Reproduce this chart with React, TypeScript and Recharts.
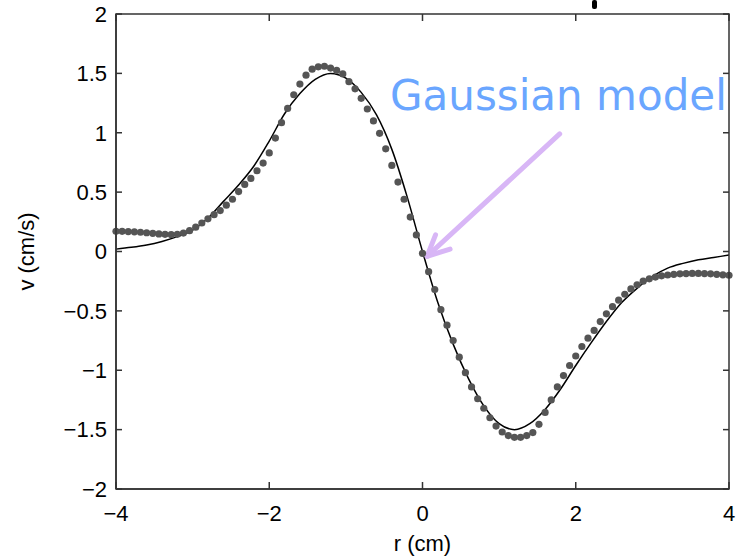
import {
  ComposedChart,
  Line,
  Scatter,
  XAxis,
  YAxis,
  ReferenceLine,
  Label,
} from "recharts";

// measured dots (v in cm/s), r step 0.08 from -4 to 4
const dotR = [
  -4.0, -3.92, -3.84, -3.76, -3.68, -3.6, -3.52, -3.44, -3.36, -3.28,
  -3.2, -3.12, -3.04, -2.96, -2.88, -2.8, -2.72, -2.64, -2.56, -2.48,
  -2.4, -2.32, -2.24, -2.16, -2.08, -2.0, -1.92, -1.84, -1.76, -1.68,
  -1.6, -1.52, -1.44, -1.36, -1.28, -1.2, -1.12, -1.04, -0.96, -0.88,
  -0.8, -0.72, -0.64, -0.56, -0.48, -0.4, -0.32, -0.24, -0.16, -0.08,
  0.0, 0.08, 0.16, 0.24, 0.32, 0.4, 0.48, 0.56, 0.64, 0.72,
  0.8, 0.88, 0.96, 1.04, 1.12, 1.2, 1.28, 1.36, 1.44, 1.52,
  1.6, 1.68, 1.76, 1.84, 1.92, 2.0, 2.08, 2.16, 2.24, 2.32,
  2.4, 2.48, 2.56, 2.64, 2.72, 2.8, 2.88, 2.96, 3.04, 3.12,
  3.2, 3.28, 3.36, 3.44, 3.52, 3.6, 3.68, 3.76, 3.84, 3.92, 4.0,
];
const dotV = [
  0.17, 0.17, 0.168, 0.166, 0.162, 0.158, 0.153, 0.148, 0.145, 0.143,
  0.145, 0.155, 0.175, 0.205, 0.24, 0.275, 0.31, 0.345, 0.39, 0.44,
  0.505, 0.565, 0.615, 0.68, 0.745, 0.83, 0.955, 1.085, 1.205, 1.32,
  1.41, 1.485, 1.535, 1.555, 1.56, 1.545, 1.525, 1.495, 1.43, 1.37,
  1.29, 1.2, 1.1, 0.995, 0.865, 0.725, 0.585, 0.44, 0.29, 0.14,
  -0.015, -0.17, -0.32, -0.49, -0.62, -0.75, -0.89, -1.02, -1.14, -1.24,
  -1.32, -1.4, -1.47, -1.52, -1.55, -1.565, -1.565, -1.55, -1.525, -1.455,
  -1.355, -1.25, -1.14, -1.045, -0.96, -0.88, -0.8, -0.73, -0.665, -0.59,
  -0.525, -0.465, -0.41, -0.36, -0.315, -0.28, -0.25, -0.23, -0.215, -0.205,
  -0.198, -0.192, -0.188, -0.186, -0.185, -0.185, -0.186, -0.188, -0.192, -0.196, -0.2,
];

// Gaussian model curve, r step 0.2
const modelR = [
  -4.0, -3.8, -3.6, -3.4, -3.2, -3.0, -2.8, -2.6, -2.4, -2.2,
  -2.0, -1.8, -1.6, -1.4, -1.2, -1.0, -0.8, -0.6, -0.4, -0.2,
  0.0, 0.2, 0.4, 0.6, 0.8, 1.0, 1.2, 1.4, 1.6, 1.8,
  2.0, 2.2, 2.4, 2.6, 2.8, 3.0, 3.2, 3.4, 3.6, 3.8, 4.0,
];
const modelV = [
  0.02, 0.035, 0.055, 0.085, 0.125, 0.18, 0.28, 0.42, 0.56, 0.72,
  0.93, 1.16, 1.33, 1.45, 1.5, 1.46, 1.34, 1.15, 0.86, 0.46,
  0.0, -0.43, -0.78, -1.07, -1.3, -1.45, -1.5, -1.45, -1.33, -1.16,
  -0.96, -0.77, -0.59, -0.43, -0.31, -0.21, -0.14, -0.1, -0.07, -0.05, -0.03,
];

const xTicks = [-4, -2, 0, 2, 4];
const yTicks = [-2, -1.5, -1, -0.5, 0, 0.5, 1, 1.5, 2];
const xMin = -4;
const xMax = 4;
const yMin = -2;
const yMax = 2;

// arrow: shaft start, tip, two wings (r, v)
const arrowShaft = [
  { x: 1.79, y: 0.99 },
  { x: 0.06, y: -0.04 },
];
const arrowWings = [
  { x: 0.36, y: 0.02 },
  { x: 0.17, y: 0.14 },
];

const dots = dotR.map((r, i) => ({ r, v: dotV[i] }));
const model = modelR.map((r, i) => ({ r, v: modelV[i] }));

const fmt = (v: number) => String(v).replace("-", "\u2212");
const font = "'Liberation Sans', Arial, sans-serif";
const tickStyle = { fontSize: 22, fill: "#000", fontFamily: font };
const arrowColor = "#d8b6f6";
const axisColor = "#333333";
const frame = { stroke: axisColor, strokeWidth: 1.5 };

// chart box
const W = 740;
const H = 558;
const margin = { top: 14, right: 11, left: 56, bottom: 29 };
const yAxisW = 60;
const xAxisH = 40;
const plotL = margin.left + yAxisW;
const plotT = margin.top;
const plotW = W - plotL - margin.right;
const plotH = H - plotT - margin.bottom - xAxisH;

// matlab-style frame: top/right border and inward ticks on every side
const MatlabFrame = () => {
  const sx = (t: number) => plotL + ((t - xMin) / (xMax - xMin)) * plotW;
  const sy = (t: number) => plotT + ((yMax - t) / (yMax - yMin)) * plotH;
  const len = 7;
  return (
    <svg width={W} height={H} style={{ position: "absolute", left: 0, top: 0, pointerEvents: "none" }}>
      <g stroke={axisColor} strokeWidth={1.5} fill="none">
        <rect x={plotL} y={plotT} width={plotW} height={plotH} />
        {xTicks.map((t) => (
          <g key={`x${t}`}>
            <line x1={sx(t)} x2={sx(t)} y1={plotT + plotH} y2={plotT + plotH - len} />
            <line x1={sx(t)} x2={sx(t)} y1={plotT} y2={plotT + len} />
          </g>
        ))}
        {yTicks.map((t) => (
          <g key={`y${t}`}>
            <line x1={plotL} x2={plotL + len - 1} y1={sy(t)} y2={sy(t)} />
            <line x1={plotL + plotW} x2={plotL + plotW - len + 1} y1={sy(t)} y2={sy(t)} />
          </g>
        ))}
      </g>
    </svg>
  );
};

export default function App() {
  return (
    <div style={{ position: "absolute", left: 0, top: 0, width: W, height: H, background: "#fff" }}>
      <ComposedChart width={W} height={H} margin={margin}>
        <XAxis
          type="number"
          dataKey="r"
          domain={[xMin, xMax]}
          ticks={xTicks}
          height={xAxisH}
          tickSize={0}
          tickMargin={16}
          tickLine={false}
          tickFormatter={fmt}
          tick={tickStyle}
          axisLine={frame}
        >
          <Label value="r (cm)" position="insideBottom" offset={-22} style={{ fontSize: 22, fill: "#000", fontFamily: font }} />
        </XAxis>
        <YAxis
          type="number"
          dataKey="v"
          domain={[yMin, yMax]}
          ticks={yTicks}
          width={yAxisW}
          tickSize={0}
          tickMargin={9}
          tickLine={false}
          tickFormatter={fmt}
          tick={tickStyle}
          axisLine={frame}
        >
          <Label
            value="v (cm/s)"
            angle={-90}
            position="insideLeft"
            offset={-30}
            style={{ fontSize: 22, fill: "#000", fontFamily: font, textAnchor: "middle" }}
          />
        </YAxis>

        <Scatter
          data={dots}
          dataKey="v"
          fill="#555"
          isAnimationActive={false}
          shape={(p: any) => <circle cx={p.cx} cy={p.cy} r={3.6} fill="#555" />}
        />
        <Line
          data={model}
          dataKey="v"
          type="monotone"
          stroke="#000"
          strokeWidth={1.5}
          dot={false}
          activeDot={false}
          isAnimationActive={false}
        />

        <ReferenceLine
          segment={arrowShaft}
          stroke={arrowColor}
          strokeWidth={5}
          strokeLinecap="round"
          ifOverflow="visible"
        />
        {arrowWings.map((w, i) => (
          <ReferenceLine
            key={i}
            segment={[arrowShaft[1], w]}
            stroke={arrowColor}
            strokeWidth={5}
            strokeLinecap="round"
            ifOverflow="visible"
          />
        ))}
      </ComposedChart>
      <MatlabFrame />
      <div
        style={{
          position: "absolute",
          left: 390,
          top: 71,
          fontSize: 42,
          color: "#6aa6ff",
          fontFamily: "'DejaVu Sans', sans-serif",
          whiteSpace: "nowrap",
        }}
      >
        Gaussian model
      </div>
      <div style={{ position: "absolute", left: 592, top: 0, width: 5, height: 9, background: "#000", borderRadius: 2 }} />
    </div>
  );
}
